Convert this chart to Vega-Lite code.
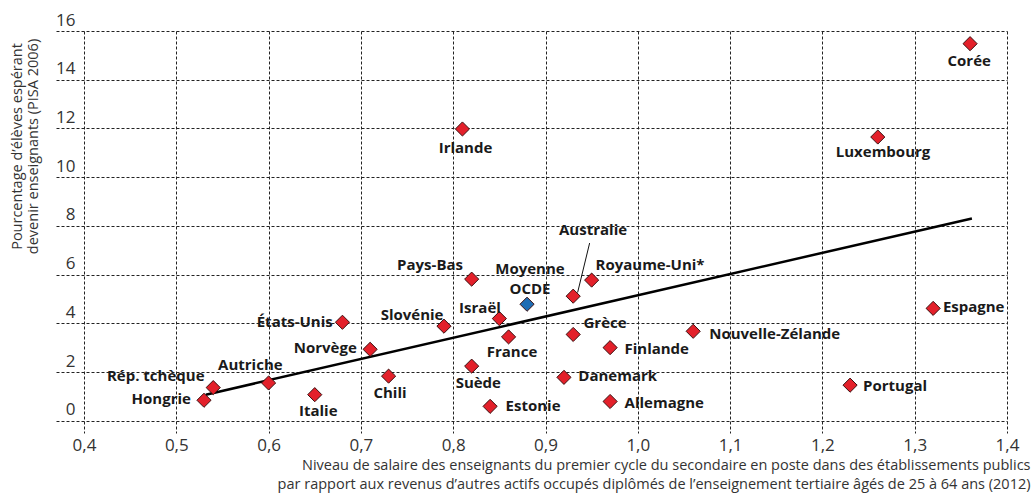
{
  "$schema": "https://vega.github.io/schema/vega-lite/v6.json",
  "width": 951,
  "height": 402,
  "autosize": {"type": "none"},
  "padding": {"left": 56, "top": 31, "right": 27, "bottom": 63},
  "background": "white",
  "config": {
    "view": {"stroke": null},
    "font": "Open Sans",
    "axis": {"labelFont": "Open Sans", "titleFont": "Open Sans", "labelColor": "#333", "titleColor": "#333"}
  },
  "datasets": {
    "pays": [
      {"pays": "Hongrie", "x": 0.53, "y": 0.85, "lx": 0.4837, "ly": 0.92, "grp": "pays"},
      {"pays": "Rép. tchèque", "x": 0.54, "y": 1.37, "lx": 0.4777, "ly": 1.85, "grp": "pays"},
      {"pays": "Autriche", "x": 0.60, "y": 1.56, "lx": 0.5802, "ly": 2.29, "grp": "pays"},
      {"pays": "Italie", "x": 0.65, "y": 1.08, "lx": 0.6538, "ly": 0.40, "grp": "pays"},
      {"pays": "États-Unis", "x": 0.68, "y": 4.05, "lx": 0.6283, "ly": 4.08, "grp": "pays"},
      {"pays": "Norvège", "x": 0.71, "y": 2.94, "lx": 0.6614, "ly": 3.01, "grp": "pays"},
      {"pays": "Chili", "x": 0.73, "y": 1.84, "lx": 0.7315, "ly": 1.13, "grp": "pays"},
      {"pays": "Slovénie", "x": 0.79, "y": 3.89, "lx": 0.7554, "ly": 4.34, "grp": "pays"},
      {"pays": "Pays-Bas", "x": 0.82, "y": 5.82, "lx": 0.7749, "ly": 6.42, "grp": "pays"},
      {"pays": "Suède", "x": 0.82, "y": 2.25, "lx": 0.8272, "ly": 1.56, "grp": "pays"},
      {"pays": "Irlande", "x": 0.81, "y": 11.98, "lx": 0.8133, "ly": 11.2, "grp": "pays"},
      {"pays": "Israël", "x": 0.85, "y": 4.2, "lx": 0.829, "ly": 4.62, "grp": "pays"},
      {"pays": "France", "x": 0.86, "y": 3.45, "lx": 0.8637, "ly": 2.82, "grp": "pays"},
      {"pays": "Estonie", "x": 0.84, "y": 0.6, "lx": 0.8865, "ly": 0.60, "grp": "pays"},
      {"pays": "Moyenne OCDE", "x": 0.88, "y": 4.79, "lx": 0.8832, "ly": 5.83, "grp": "ocde"},
      {"pays": "Australie", "x": 0.93, "y": 5.12, "lx": 0.9515, "ly": 7.83, "grp": "pays"},
      {"pays": "Royaume-Uni*", "x": 0.95, "y": 5.78, "lx": 1.0132, "ly": 6.42, "grp": "pays"},
      {"pays": "Grèce", "x": 0.93, "y": 3.55, "lx": 0.9645, "ly": 4.0, "grp": "pays"},
      {"pays": "Danemark", "x": 0.92, "y": 1.79, "lx": 0.9782, "ly": 1.85, "grp": "pays"},
      {"pays": "Finlande", "x": 0.97, "y": 3.01, "lx": 1.0205, "ly": 2.97, "grp": "pays"},
      {"pays": "Allemagne", "x": 0.97, "y": 0.8, "lx": 1.0287, "ly": 0.74, "grp": "pays"},
      {"pays": "Nouvelle-Zélande", "x": 1.06, "y": 3.68, "lx": 1.1483, "ly": 3.55, "grp": "pays"},
      {"pays": "Portugal", "x": 1.23, "y": 1.47, "lx": 1.2787, "ly": 1.44, "grp": "pays"},
      {"pays": "Espagne", "x": 1.32, "y": 4.62, "lx": 1.3639, "ly": 4.68, "grp": "pays"},
      {"pays": "Luxembourg", "x": 1.26, "y": 11.65, "lx": 1.2657, "ly": 11.03, "grp": "pays"},
      {"pays": "Corée", "x": 1.36, "y": 15.48, "lx": 1.359, "ly": 14.78, "grp": "pays"}
    ],
    "tendance": [
      {"x": 0.532, "y": 1.08},
      {"x": 1.362, "y": 8.31}
    ],
    "renvoi": [
      {"x": 0.9478, "y": 7.30, "x2": 0.9348, "y2": 5.27}
    ]
  },
  "layer": [
    {
      "data": {"name": "pays"},
      "mark": {"type": "point", "opacity": 0},
      "encoding": {
        "x": {
          "field": "x", "type": "quantitative",
          "scale": {"domain": [0.36966, 1.4], "nice": false, "zero": false},
          "axis": {
            "values": [0.4, 0.5, 0.6, 0.7, 0.8, 0.9, 1.0, 1.1, 1.2, 1.3, 1.4],
            "labelExpr": "replace(format(datum.value, '.1f'), '.', ',')",
            "domain": false, "ticks": false, "tickSize": 0,
            "grid": true, "gridDash": [3, 2], "gridColor": "#222", "gridWidth": 1,
            "labelFontSize": 17, "labelPadding": 4, "labelFlush": false,
            "title": ["Niveau de salaire des enseignants du premier cycle du secondaire en poste dans des établissements publics", "par rapport aux revenus d’autres actifs occupés diplômés de l’enseignement tertiaire âgés de 25 à 64 ans (2012)"],
            "titleFontSize": 14.5, "titleFontWeight": "normal", "titleAnchor": "end", "titleAlign": "right",
            "titleX": 974, "titleY": 25, "titleBaseline": "top", "titleLineHeight": 19
          }
        },
        "y": {
          "field": "y", "type": "quantitative",
          "scale": {"domain": [-0.4928, 16], "nice": false, "zero": false},
          "axis": {
            "values": [0, 2, 4, 6, 8, 10, 12, 14, 16],
            "domain": false, "ticks": false, "tickSize": 0,
            "grid": true, "gridDash": [3, 2], "gridColor": "#222", "gridWidth": 1,
            "labelFontSize": 17, "labelAlign": "right", "labelBaseline": "alphabetic",
            "labelPadding": -19, "labelOffset": -6,
            "title": ["Pourcentage d’élèves espérant", "devenir enseignants (PISA 2006)"],
            "titleFontSize": 14.5, "titleFontWeight": "normal", "titleAngle": -90,
            "titleX": -32, "titleY": 115, "titleBaseline": "bottom", "titleAlign": "center", "titleLineHeight": 16
          }
        }
      }
    },
    {
      "mark": {"type": "rule", "color": "#777", "strokeWidth": 1.5},
      "encoding": {"y": {"datum": 16}, "x": {"datum": 0.3177}, "x2": {"datum": 1.4}}
    },
    {
      "mark": {"type": "rule", "color": "#777", "strokeWidth": 1.5},
      "encoding": {"x": {"datum": 1.4}, "y": {"datum": -0.4928}, "y2": {"datum": 16}}
    },
    {
      "mark": {"type": "rule", "color": "#111", "strokeWidth": 1.5},
      "encoding": {"y": {"datum": 0}, "x": {"datum": 0.36966}, "x2": {"datum": 1.4}}
    },
    {
      "mark": {"type": "rule", "color": "#111", "strokeWidth": 1.5},
      "encoding": {"x": {"datum": 0.4}, "y": {"datum": -0.4928}, "y2": {"datum": 16}}
    },
    {
      "data": {"name": "tendance"},
      "mark": {"type": "line", "color": "#000", "strokeWidth": 2.5},
      "encoding": {"x": {"field": "x", "type": "quantitative"}, "y": {"field": "y", "type": "quantitative"}}
    },
    {
      "data": {"name": "renvoi"},
      "mark": {"type": "rule", "color": "#111", "strokeWidth": 1},
      "encoding": {
        "x": {"field": "x", "type": "quantitative"}, "y": {"field": "y", "type": "quantitative"},
        "x2": {"field": "x2"}, "y2": {"field": "y2"}
      }
    },
    {
      "data": {"name": "pays"},
      "mark": {"type": "point", "shape": "diamond", "filled": true, "size": 200, "stroke": "#3a1010", "strokeWidth": 1, "opacity": 1},
      "encoding": {
        "x": {"field": "x", "type": "quantitative"},
        "y": {"field": "y", "type": "quantitative"},
        "fill": {"field": "grp", "type": "nominal", "scale": {"domain": ["pays", "ocde"], "range": ["#E3202A", "#1E6DB4"]}, "legend": null}
      }
    },
    {
      "data": {"name": "pays"},
      "transform": [{"filter": "datum.grp == 'pays'"}],
      "mark": {"type": "text", "font": "Open Sans", "fontWeight": "bold", "fontSize": 15, "color": "#1a1a1a", "align": "center", "baseline": "middle"},
      "encoding": {
        "x": {"field": "lx", "type": "quantitative"},
        "y": {"field": "ly", "type": "quantitative"},
        "text": {"field": "pays"}
      }
    },
    {
      "data": {"name": "pays"},
      "transform": [{"filter": "datum.grp == 'ocde'"}],
      "mark": {"type": "text", "font": "Open Sans", "fontWeight": "bold", "fontSize": 15, "color": "#1a1a1a", "align": "center", "baseline": "middle", "dy": -10},
      "encoding": {
        "x": {"field": "lx", "type": "quantitative"},
        "y": {"field": "ly", "type": "quantitative"},
        "text": {"value": "Moyenne"}
      }
    },
    {
      "data": {"name": "pays"},
      "transform": [{"filter": "datum.grp == 'ocde'"}],
      "mark": {"type": "text", "font": "Open Sans", "fontWeight": "bold", "fontSize": 15, "color": "#1a1a1a", "align": "center", "baseline": "middle", "dy": 10},
      "encoding": {
        "x": {"field": "lx", "type": "quantitative"},
        "y": {"field": "ly", "type": "quantitative"},
        "text": {"value": "OCDE"}
      }
    },
    {
      "mark": {"type": "text", "font": "Liberation Serif", "fontSize": 15, "color": "#222", "align": "center", "baseline": "middle"},
      "encoding": {"x": {"datum": 1.3523}, "y": {"datum": 8.9}, "text": {"value": "R² = 0.28"}}
    }
  ]
}
